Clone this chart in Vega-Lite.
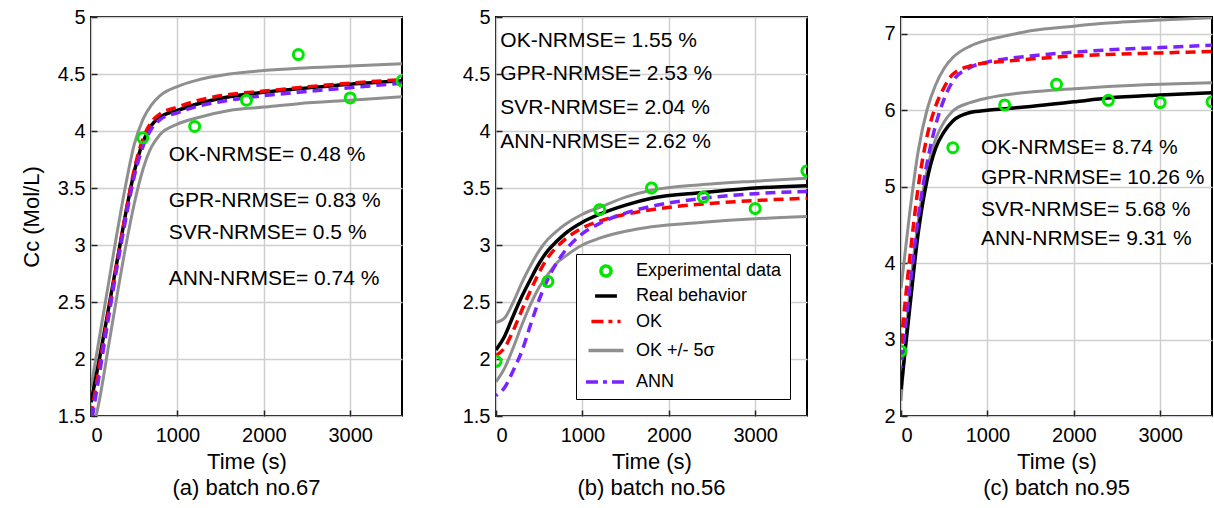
{
  "$schema": "https://vega.github.io/schema/vega-lite/v6.json",
  "background": "white",
  "padding": {"left": 19, "top": 6, "right": 0, "bottom": 2},
  "spacing": 94,
  "bounds": "flush",
  "datasets": {
    "la": [
      {"t": 0, "real": 1.62, "ok": 1.5, "ann": 1.42, "up": 1.75, "lo": 1.3},
      {"t": 100, "real": 2.01, "ok": 1.95, "ann": 1.88, "up": 2.2, "lo": 1.65},
      {"t": 200, "real": 2.43, "ok": 2.4, "ann": 2.35, "up": 2.65, "lo": 2.1},
      {"t": 300, "real": 2.85, "ok": 2.84, "ann": 2.8, "up": 3.1, "lo": 2.55},
      {"t": 400, "real": 3.27, "ok": 3.27, "ann": 3.22, "up": 3.52, "lo": 2.98},
      {"t": 500, "real": 3.64, "ok": 3.66, "ann": 3.6, "up": 3.88, "lo": 3.36},
      {"t": 600, "real": 3.9, "ok": 3.93, "ann": 3.86, "up": 4.1, "lo": 3.66},
      {"t": 700, "real": 4.05, "ok": 4.08, "ann": 4.02, "up": 4.23, "lo": 3.86},
      {"t": 800, "real": 4.12, "ok": 4.15, "ann": 4.1, "up": 4.31, "lo": 3.97},
      {"t": 1000, "real": 4.18, "ok": 4.21, "ann": 4.16, "up": 4.39, "lo": 4.06},
      {"t": 1200, "real": 4.23, "ok": 4.26, "ann": 4.21, "up": 4.44, "lo": 4.11},
      {"t": 1600, "real": 4.3, "ok": 4.32, "ann": 4.27, "up": 4.5, "lo": 4.18},
      {"t": 2000, "real": 4.34, "ok": 4.35, "ann": 4.31, "up": 4.53, "lo": 4.21},
      {"t": 2400, "real": 4.37, "ok": 4.38, "ann": 4.34, "up": 4.55, "lo": 4.24},
      {"t": 3000, "real": 4.41, "ok": 4.42, "ann": 4.38, "up": 4.57, "lo": 4.27},
      {"t": 3600, "real": 4.44, "ok": 4.45, "ann": 4.42, "up": 4.59, "lo": 4.3}
    ],
    "lb": [
      {"t": 0, "real": 2.08, "ok": 2.03, "ann": 1.68, "up": 2.32, "lo": 1.8},
      {"t": 100, "real": 2.2, "ok": 2.1, "ann": 1.75, "up": 2.36, "lo": 1.92},
      {"t": 200, "real": 2.38, "ok": 2.25, "ann": 1.9, "up": 2.5, "lo": 2.1},
      {"t": 300, "real": 2.55, "ok": 2.43, "ann": 2.07, "up": 2.67, "lo": 2.3},
      {"t": 400, "real": 2.7, "ok": 2.6, "ann": 2.3, "up": 2.82, "lo": 2.48},
      {"t": 500, "real": 2.84, "ok": 2.76, "ann": 2.52, "up": 2.95, "lo": 2.63},
      {"t": 600, "real": 2.95, "ok": 2.89, "ann": 2.7, "up": 3.05, "lo": 2.74},
      {"t": 700, "real": 3.03, "ok": 2.98, "ann": 2.84, "up": 3.12, "lo": 2.84},
      {"t": 800, "real": 3.1, "ok": 3.05, "ann": 2.95, "up": 3.18, "lo": 2.9},
      {"t": 1000, "real": 3.2, "ok": 3.15, "ann": 3.1, "up": 3.27, "lo": 3.0},
      {"t": 1200, "real": 3.27, "ok": 3.21, "ann": 3.19, "up": 3.33, "lo": 3.06},
      {"t": 1500, "real": 3.35, "ok": 3.27, "ann": 3.28, "up": 3.42, "lo": 3.12},
      {"t": 1800, "real": 3.41, "ok": 3.31, "ann": 3.34, "up": 3.48, "lo": 3.16},
      {"t": 2400, "real": 3.46, "ok": 3.36, "ann": 3.41, "up": 3.53, "lo": 3.2},
      {"t": 3000, "real": 3.5, "ok": 3.39, "ann": 3.45, "up": 3.56, "lo": 3.23},
      {"t": 3600, "real": 3.52, "ok": 3.41, "ann": 3.47, "up": 3.585, "lo": 3.25}
    ],
    "lc": [
      {"t": 0, "real": 2.35, "ok": 2.95, "ann": 2.63, "up": 3.67, "lo": 2.2},
      {"t": 100, "real": 3.4, "ok": 4.05, "ann": 3.65, "up": 4.65, "lo": 3.6},
      {"t": 200, "real": 4.4, "ok": 5.0, "ann": 4.6, "up": 5.47, "lo": 4.55},
      {"t": 300, "real": 5.08, "ok": 5.65, "ann": 5.3, "up": 6.0, "lo": 5.2},
      {"t": 400, "real": 5.5, "ok": 6.05, "ann": 5.8, "up": 6.33, "lo": 5.62},
      {"t": 500, "real": 5.72, "ok": 6.3, "ann": 6.15, "up": 6.55, "lo": 5.85},
      {"t": 600, "real": 5.86, "ok": 6.47, "ann": 6.38, "up": 6.69, "lo": 5.99},
      {"t": 800, "real": 5.97, "ok": 6.58, "ann": 6.56, "up": 6.84, "lo": 6.1},
      {"t": 1000, "real": 6.0, "ok": 6.62, "ann": 6.63, "up": 6.92, "lo": 6.16},
      {"t": 1200, "real": 6.02, "ok": 6.64, "ann": 6.67, "up": 6.97, "lo": 6.2},
      {"t": 1500, "real": 6.05, "ok": 6.67, "ann": 6.71, "up": 7.04, "lo": 6.24},
      {"t": 2000, "real": 6.11, "ok": 6.71, "ann": 6.76, "up": 7.1, "lo": 6.28},
      {"t": 2400, "real": 6.16, "ok": 6.73, "ann": 6.79, "up": 7.14, "lo": 6.31},
      {"t": 3000, "real": 6.2, "ok": 6.75, "ann": 6.82, "up": 7.18, "lo": 6.34},
      {"t": 3600, "real": 6.23, "ok": 6.77, "ann": 6.85, "up": 7.21, "lo": 6.36}
    ],
    "pa": [
      {"t": 600, "v": 3.94, "s": "Experimental data"},
      {"t": 1200, "v": 4.04, "s": "Experimental data"},
      {"t": 1800, "v": 4.27, "s": "Experimental data"},
      {"t": 2400, "v": 4.67, "s": "Experimental data"},
      {"t": 3000, "v": 4.29, "s": "Experimental data"},
      {"t": 3600, "v": 4.44, "s": "Experimental data"}
    ],
    "pb": [
      {"t": 0, "v": 1.98, "s": "Experimental data"},
      {"t": 600, "v": 2.68, "s": "Experimental data"},
      {"t": 1200, "v": 3.31, "s": "Experimental data"},
      {"t": 1800, "v": 3.5, "s": "Experimental data"},
      {"t": 2400, "v": 3.42, "s": "Experimental data"},
      {"t": 3000, "v": 3.32, "s": "Experimental data"},
      {"t": 3600, "v": 3.65, "s": "Experimental data"}
    ],
    "pc": [
      {"t": 0, "v": 2.85, "s": "Experimental data"},
      {"t": 600, "v": 5.51, "s": "Experimental data"},
      {"t": 1200, "v": 6.07, "s": "Experimental data"},
      {"t": 1800, "v": 6.34, "s": "Experimental data"},
      {"t": 2400, "v": 6.13, "s": "Experimental data"},
      {"t": 3000, "v": 6.1, "s": "Experimental data"},
      {"t": 3600, "v": 6.11, "s": "Experimental data"}
    ],
    "ta": [
      {"t": 900, "v": 3.79, "label": "OK-NRMSE= 0.48 %"},
      {"t": 900, "v": 3.39, "label": "GPR-NRMSE= 0.83 %"},
      {"t": 900, "v": 3.105, "label": "SVR-NRMSE= 0.5 %"},
      {"t": 900, "v": 2.7, "label": "ANN-NRMSE= 0.74 %"}
    ],
    "tb": [
      {"t": 50, "v": 4.79, "label": "OK-NRMSE= 1.55 %"},
      {"t": 50, "v": 4.5, "label": "GPR-NRMSE= 2.53 %"},
      {"t": 50, "v": 4.2, "label": "SVR-NRMSE= 2.04 %"},
      {"t": 50, "v": 3.9, "label": "ANN-NRMSE= 2.62 %"}
    ],
    "tc": [
      {"t": 925, "v": 5.5, "label": "OK-NRMSE= 8.74 %"},
      {"t": 925, "v": 5.11, "label": "GPR-NRMSE= 10.26 %"},
      {"t": 925, "v": 4.7, "label": "SVR-NRMSE= 5.68 %"},
      {"t": 925, "v": 4.31, "label": "ANN-NRMSE= 9.31 %"}
    ]
  },
  "hconcat": [
    {
      "width": 311,
      "height": 399,
      "title": {"text": "(a) batch no.67"},
      "encoding": {
        "x": {"field": "t", "type": "quantitative", "scale": {"domain": [0, 3600], "nice": false}, "axis": {"values": [0, 1000, 2000, 3000], "format": "d", "title": "Time (s)"}},
        "y": {"field": "v", "type": "quantitative", "scale": {"domain": [1.5, 5], "nice": false, "zero": false}, "axis": {"values": [1.5, 2, 2.5, 3, 3.5, 4, 4.5, 5], "format": "~g", "title": "Cᴄ (Mol/L)"}}
      },
      "layer": [
        {"data": {"name": "la"}, "transform": [{"fold": ["up", "lo"], "as": ["k", "v"]}], "mark": {"type": "line", "color": "#8f8f8f", "strokeWidth": 3, "interpolate": "monotone", "clip": true}, "encoding": {"detail": {"field": "k"}}},
        {"data": {"name": "la"}, "transform": [{"fold": ["real"], "as": ["k", "v"]}], "mark": {"type": "line", "color": "black", "strokeWidth": 3.5, "interpolate": "monotone", "clip": true}},
        {"data": {"name": "la"}, "transform": [{"fold": ["ok"], "as": ["k", "v"]}], "mark": {"type": "line", "color": "#ff0000", "strokeWidth": 3.5, "strokeDash": [10, 6], "interpolate": "monotone", "clip": true}},
        {"data": {"name": "la"}, "transform": [{"fold": ["ann"], "as": ["k", "v"]}], "mark": {"type": "line", "color": "#7a22ff", "strokeWidth": 3.5, "strokeDash": [10, 6], "strokeDashOffset": 8, "interpolate": "monotone", "clip": true}},
        {"data": {"name": "pa"}, "mark": {"type": "point", "shape": "circle", "filled": false, "size": 100, "strokeWidth": 3, "opacity": 1, "color": "#00e600", "clip": true}},
        {"data": {"name": "ta"}, "mark": {"type": "text", "align": "left", "baseline": "middle", "fontSize": 21, "color": "black", "clip": true}, "encoding": {"text": {"field": "label"}}}
      ]
    },
    {
      "width": 311,
      "height": 399,
      "title": {"text": "(b) batch no.56"},
      "encoding": {
        "x": {"field": "t", "type": "quantitative", "scale": {"domain": [0, 3600], "nice": false}, "axis": {"values": [0, 1000, 2000, 3000], "format": "d", "title": "Time (s)"}},
        "y": {"field": "v", "type": "quantitative", "scale": {"domain": [1.5, 5], "nice": false, "zero": false}, "axis": {"values": [1.5, 2, 2.5, 3, 3.5, 4, 4.5, 5], "format": "~g", "title": null}}
      },
      "layer": [
        {"data": {"name": "lb"}, "transform": [{"fold": ["up", "lo"], "as": ["k", "v"]}], "mark": {"type": "line", "color": "#8f8f8f", "strokeWidth": 3, "interpolate": "monotone", "clip": true}, "encoding": {"detail": {"field": "k"}}},
        {"data": {"name": "lb"}, "transform": [{"fold": ["real"], "as": ["k", "v"]}], "mark": {"type": "line", "color": "black", "strokeWidth": 3.5, "interpolate": "monotone", "clip": true}},
        {"data": {"name": "lb"}, "transform": [{"fold": ["ok"], "as": ["k", "v"]}], "mark": {"type": "line", "color": "#ff0000", "strokeWidth": 3.5, "strokeDash": [10, 6], "interpolate": "monotone", "clip": true}},
        {"data": {"name": "lb"}, "transform": [{"fold": ["ann"], "as": ["k", "v"]}], "mark": {"type": "line", "color": "#7a22ff", "strokeWidth": 3.5, "strokeDash": [10, 6], "strokeDashOffset": 8, "interpolate": "monotone", "clip": true}},
        {"data": {"name": "pb"}, "mark": {"type": "point", "filled": false, "strokeWidth": 3, "opacity": 1, "clip": true},
         "encoding": {
           "color": {"field": "s", "type": "nominal", "scale": {"domain": ["Experimental data", "Real behavior", "OK", "OK +/- 5σ", "ANN"], "range": ["#00e600", "#000000", "#ff0000", "#8f8f8f", "#7a22ff"]}, "legend": {"orient": "bottom-right", "offset": 17, "title": null, "strokeColor": "black", "fillColor": "white", "padding": 8, "labelFontSize": 18, "labelColor": "black", "labelOffset": 8, "rowPadding": 0, "symbolStrokeWidth": 3.5}},
           "shape": {"field": "s", "type": "nominal", "scale": {"domain": ["Experimental data", "Real behavior", "OK", "OK +/- 5σ", "ANN"], "range": ["circle", "stroke", "stroke", "stroke", "stroke"]}},
           "size": {"field": "s", "type": "ordinal", "scale": {"domain": ["Experimental data", "Real behavior", "OK", "OK +/- 5σ", "ANN"], "range": [100, 1600, 1600, 1600, 1600]}},
           "strokeDash": {"field": "s", "type": "nominal", "scale": {"domain": ["Experimental data", "Real behavior", "OK", "OK +/- 5σ", "ANN"], "range": [[1, 0], [1, 0], [12, 5, 4, 5], [1, 0], [12, 5, 4, 5]]}}
         }},
        {"data": {"name": "tb"}, "mark": {"type": "text", "align": "left", "baseline": "middle", "fontSize": 21, "color": "black", "clip": true}, "encoding": {"text": {"field": "label"}}}
      ]
    },
    {
      "width": 311,
      "height": 399,
      "title": {"text": "(c) batch no.95"},
      "encoding": {
        "x": {"field": "t", "type": "quantitative", "scale": {"domain": [0, 3600], "nice": false}, "axis": {"values": [0, 1000, 2000, 3000], "format": "d", "title": "Time (s)"}},
        "y": {"field": "v", "type": "quantitative", "scale": {"domain": [2, 7.22], "nice": false, "zero": false}, "axis": {"values": [2, 3, 4, 5, 6, 7], "format": "~g", "title": null}}
      },
      "layer": [
        {"data": {"name": "lc"}, "transform": [{"fold": ["up", "lo"], "as": ["k", "v"]}], "mark": {"type": "line", "color": "#8f8f8f", "strokeWidth": 3, "interpolate": "monotone", "clip": true}, "encoding": {"detail": {"field": "k"}}},
        {"data": {"name": "lc"}, "transform": [{"fold": ["real"], "as": ["k", "v"]}], "mark": {"type": "line", "color": "black", "strokeWidth": 3.5, "interpolate": "monotone", "clip": true}},
        {"data": {"name": "lc"}, "transform": [{"fold": ["ann"], "as": ["k", "v"]}], "mark": {"type": "line", "color": "#7a22ff", "strokeWidth": 3.5, "strokeDash": [10, 6], "strokeDashOffset": 8, "interpolate": "monotone", "clip": true}},
        {"data": {"name": "lc"}, "transform": [{"fold": ["ok"], "as": ["k", "v"]}], "mark": {"type": "line", "color": "#ff0000", "strokeWidth": 3.5, "strokeDash": [10, 6], "interpolate": "monotone", "clip": true}},
        {"data": {"name": "pc"}, "mark": {"type": "point", "shape": "circle", "filled": false, "size": 100, "strokeWidth": 3, "opacity": 1, "color": "#00e600", "clip": true}},
        {"data": {"name": "tc"}, "mark": {"type": "text", "align": "left", "baseline": "middle", "fontSize": 21, "color": "black", "clip": true}, "encoding": {"text": {"field": "label"}}}
      ]
    }
  ],
  "resolve": {
    "scale": {"color": "independent", "shape": "independent", "size": "independent", "strokeDash": "independent"},
    "legend": {"color": "independent", "shape": "independent", "size": "independent", "strokeDash": "independent"}
  },
  "config": {
    "font": "Liberation Sans",
    "view": {"stroke": "black", "strokeWidth": 2},
    "axis": {"grid": true, "gridColor": "#cfcfcf", "gridWidth": 1.5, "domain": false, "ticks": true, "tickSize": -6, "tickColor": "#222222", "tickWidth": 1.5, "labelFontSize": 20, "labelColor": "black", "labelPadding": 12, "titleFontSize": 22, "titleColor": "black", "titleFontWeight": "normal", "titlePadding": 14},
    "axisX": {"labelPadding": 15, "titlePadding": 6},
    "title": {"fontSize": 22, "fontWeight": "normal", "color": "black", "orient": "bottom", "offset": 6}
  }
}
